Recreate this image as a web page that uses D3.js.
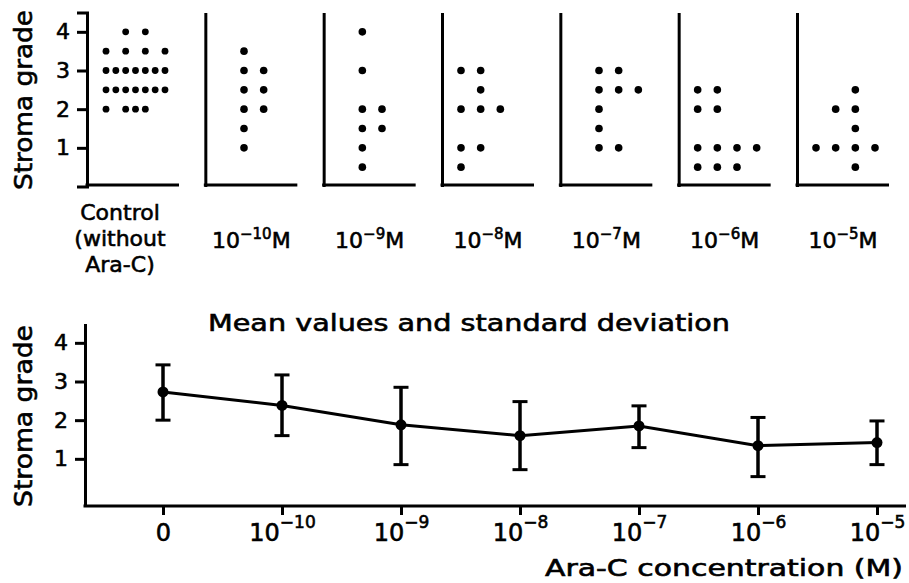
<!DOCTYPE html>
<html>
<head>
<meta charset="utf-8">
<script src="https://cdn.jsdelivr.net/npm/d3@7"></script>
<style>
  body { margin: 0; background: #fff; }
  svg { display: block; font-family: "DejaVu Sans", sans-serif; }
  .axis path, .axis line { stroke: #000; }
  text { fill: #000; stroke: #000; stroke-width: 0.6px; }
</style>
</head>
<body>
<div id="chart"></div>
<script>
// panels / concentrations (exponent of 10, "" = control)
var panels = ["control", "-10", "-9", "-8", "-7", "-6", "-5"];

// individual values per panel: [stroma grade, slot] (slot = horizontal column of the dot)
var dotsControl = [[4,1],[4,2],
  [3.5,0],[3.5,1],[3.5,2],[3.5,3],
  [3,0],[3,0.5],[3,1],[3,1.5],[3,2],[3,2.5],[3,3],
  [2.5,0],[2.5,0.5],[2.5,1],[2.5,1.5],[2.5,2],[2.5,2.5],[2.5,3],
  [2,0],[2,1],[2,1.5],[2,2]];
var dotsE10 = [[3.5,1],[3,1],[3,2],[2.5,1],[2.5,2],[2,1],[2,2],[1.5,1],[1,1]];
var dotsE9  = [[4,1],[3,1],[2,1],[2,2],[1.5,1],[1.5,2],[1,1],[0.5,1]];
var dotsE8  = [[3,0],[3,1],[2.5,1],[2,0],[2,1],[2,2],[1,0],[1,1],[0.5,0]];
var dotsE7  = [[3,1],[3,2],[2.5,1],[2.5,2],[2.5,3],[2,1],[1.5,1],[1,1],[1,2]];
var dotsE6  = [[2.5,0],[2.5,1],[2,0],[2,1],[1,0],[1,1],[1,2],[1,3],[0.5,0],[0.5,1],[0.5,2]];
var dotsE5  = [[2.5,2],[2,1],[2,2],[1.5,2],[1,0],[1,1],[1,2],[1,3],[0.5,2]];
var allDots = [dotsControl, dotsE10, dotsE9, dotsE8, dotsE7, dotsE6, dotsE5];

// mean values and standard deviation range
var meanValues = [2.73, 2.38, 1.88, 1.60, 1.85, 1.34, 1.42];
var sdHigh     = [3.43, 3.17, 2.85, 2.48, 2.37, 2.07, 1.98];
var sdLow      = [2.00, 1.60, 0.85, 0.72, 1.29, 0.54, 0.85];

var gradeTicks = [1, 2, 3, 4];

var width = 909,
    height = 583;

var svg = d3.select("#chart").append("svg")
    .attr("width", width)
    .attr("height", height);

svg.append("rect").attr("width", width).attr("height", height).attr("fill", "#fff");

function styleAxis(s) {
    s.select(".domain").attr("stroke-width", 3);
    s.selectAll(".tick line").attr("stroke-width", 3);
    s.selectAll("text").attr("font-size", 22).attr("font-family", "DejaVu Sans");
}

// ---------- top: individual values ----------
var yTop = d3.scaleLinear().domain([0, 4.5]).range([186.5, 12.5]);
var xPanel = d3.scalePoint().domain(panels).range([87, 797]);
var xSlot = d3.scaleLinear().domain([0, 3]).range([19, 78]);
var panelW = 92;

panels.forEach(function(p, i) {
    var g = svg.append("g").attr("transform", "translate(" + xPanel(p) + ",0)");

    var ax = d3.axisLeft(yTop).tickSizeOuter(0);
    if (i == 0) {
        ax.tickValues(gradeTicks).tickSize(10).tickPadding(7).tickFormat(d3.format("d"));
    } else {
        ax.tickValues([]);
    }
    g.append("g").attr("class", "axis").call(ax).call(styleAxis);

    g.append("line")
        .attr("x1", -1.5).attr("x2", panelW)
        .attr("y1", yTop(0) - 1.5).attr("y2", yTop(0) - 1.5)
        .attr("stroke", "#000").attr("stroke-width", 3);

    g.selectAll("circle.dot")
        .data(allDots[i])
        .enter().append("circle")
        .attr("class", "dot")
        .attr("cx", function(d) { return xSlot(d[1]); })
        .attr("cy", function(d) { return yTop(d[0]); })
        .attr("r", i == 0 ? 3.4 : 3.8)
        .attr("fill", "#000");

    // panel label
    if (i == 0) {
        var lines = ["Control", "(without", "Ara-C)"];
        g.selectAll("text.lab").data(lines).enter().append("text")
            .attr("class", "lab")
            .attr("x", 33)
            .attr("y", function(d, k) { return 220 + k * 26; })
            .attr("text-anchor", "middle")
            .attr("font-size", 22)
            .text(function(d) { return d; });
    } else {
        var t = g.append("text")
            .attr("x", panelW / 2)
            .attr("y", 248)
            .attr("text-anchor", "middle")
            .attr("font-size", 22);
        t.append("tspan").text("10");
        t.append("tspan").attr("dy", -9).attr("font-size", 15).text("\u2212" + p.slice(1));
        t.append("tspan").attr("dy", 9).text("M");
    }
});

svg.append("text")
    .attr("transform", "translate(32,100) rotate(-90)")
    .attr("text-anchor", "middle")
    .attr("font-size", 25)
    .attr("textLength", 180)
    .attr("lengthAdjust", "spacingAndGlyphs")
    .text("Stroma grade");

// ---------- bottom: mean values ----------
var yBot = d3.scaleLinear().domain([-0.22, 4.5]).range([506, 323.5]);
var xBot = d3.scalePoint().domain(panels).range([163, 877]);

svg.append("g").attr("class", "axis")
    .attr("transform", "translate(85,0)")
    .call(d3.axisLeft(yBot).tickValues(gradeTicks).tickSize(10).tickSizeOuter(0)
        .tickPadding(7).tickFormat(d3.format("d")))
    .call(styleAxis);

var xg = svg.append("g").attr("class", "axis")
    .attr("transform", "translate(0,506)")
    .call(d3.axisBottom(xBot).tickSize(9).tickSizeOuter(0).tickFormat(""));
xg.select(".domain").remove();
xg.selectAll(".tick line").attr("stroke-width", 3);
xg.selectAll(".tick").each(function(p) {
    var t = d3.select(this).append("text")
        .attr("y", 35)
        .attr("text-anchor", "middle")
        .attr("font-size", 24)
        .attr("font-family", "DejaVu Sans");
    if (p == "control") {
        t.text("0");
    } else {
        t.append("tspan").text("10");
        t.append("tspan").attr("dy", -13).attr("font-size", 17).text("\u2212" + p.slice(1));
    }
});

svg.append("line")
    .attr("x1", 83.5).attr("x2", 906)
    .attr("y1", 506).attr("y2", 506)
    .attr("stroke", "#000").attr("stroke-width", 3);

var mean = panels.map(function(p, i) {
    return { p: p, m: meanValues[i], hi: sdHigh[i], lo: sdLow[i] };
});

var line = d3.line()
    .x(function(d) { return xBot(d.p); })
    .y(function(d) { return yBot(d.m); });

svg.append("path")
    .datum(mean)
    .attr("d", line)
    .attr("fill", "none")
    .attr("stroke", "#000")
    .attr("stroke-width", 3);

var eb = svg.selectAll("g.eb").data(mean).enter().append("g").attr("class", "eb");
eb.append("line")
    .attr("x1", function(d) { return xBot(d.p); })
    .attr("x2", function(d) { return xBot(d.p); })
    .attr("y1", function(d) { return yBot(d.hi); })
    .attr("y2", function(d) { return yBot(d.lo); })
    .attr("stroke", "#000").attr("stroke-width", 3.5);
eb.append("line")
    .attr("x1", function(d) { return xBot(d.p) - 7.5; })
    .attr("x2", function(d) { return xBot(d.p) + 7.5; })
    .attr("y1", function(d) { return yBot(d.hi); })
    .attr("y2", function(d) { return yBot(d.hi); })
    .attr("stroke", "#000").attr("stroke-width", 3);
eb.append("line")
    .attr("x1", function(d) { return xBot(d.p) - 7.5; })
    .attr("x2", function(d) { return xBot(d.p) + 7.5; })
    .attr("y1", function(d) { return yBot(d.lo); })
    .attr("y2", function(d) { return yBot(d.lo); })
    .attr("stroke", "#000").attr("stroke-width", 3);
eb.append("circle")
    .attr("cx", function(d) { return xBot(d.p); })
    .attr("cy", function(d) { return yBot(d.m); })
    .attr("r", 5.5)
    .attr("fill", "#000");

svg.append("text")
    .attr("x", 469).attr("y", 331)
    .attr("text-anchor", "middle")
    .attr("font-size", 23)
    .attr("textLength", 522)
    .attr("lengthAdjust", "spacingAndGlyphs")
    .text("Mean  values  and  standard  deviation");

svg.append("text")
    .attr("transform", "translate(32,416) rotate(-90)")
    .attr("text-anchor", "middle")
    .attr("font-size", 25)
    .attr("textLength", 182)
    .attr("lengthAdjust", "spacingAndGlyphs")
    .text("Stroma grade");

svg.append("text")
    .attr("x", 903).attr("y", 576)
    .attr("text-anchor", "end")
    .attr("font-size", 23)
    .attr("textLength", 358)
    .attr("lengthAdjust", "spacingAndGlyphs")
    .text("Ara-C concentration (M)");
</script>
</body>
</html>
